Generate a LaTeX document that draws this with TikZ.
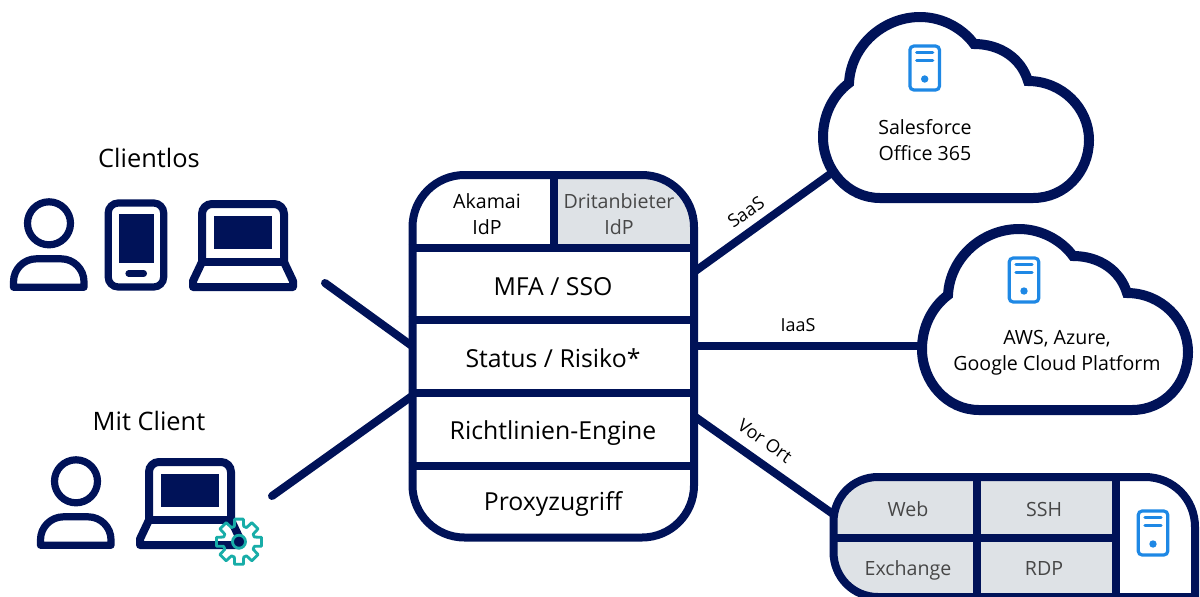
\documentclass[tikz,border=0pt]{standalone}
\usepackage{fontspec}
\setmainfont{Open Sans}
\usepackage{xcolor}
\usetikzlibrary{positioning, calc}

\definecolor{navy}{HTML}{001258}
\definecolor{cellgray}{HTML}{DEE2E6}
\definecolor{srvblue}{HTML}{1E88E5}
\definecolor{gearteal}{HTML}{18ADA8}

\begin{document}
\begin{tikzpicture}[
  x=0.5pt, y=-0.5pt,
  every node/.style={inner sep=0pt, text=black, align=center},
  frame/.style={draw=navy, line width=4pt},
  wire/.style={draw=navy, line width=4pt, line cap=round},
  rowtext/.style={font=\fontsize{12.4}{15}\selectfont, anchor=base},
  celltext/.style={font=\fontsize{9.8}{13}\selectfont},
  graytext/.style={font=\fontsize{9.8}{13}\selectfont, text=black!72},
  cloudtext/.style={font=\fontsize{9.8}{13}\selectfont},
  linklabel/.style={font=\fontsize{9}{11}\selectfont},
  grouplabel/.style={font=\fontsize{12.7}{15}\selectfont},
  % Icons, drawn around their own origin
  pics/person/.style={code={
    \draw[frame, line width=3.6pt] (0,0) circle[radius=21.5];
    \draw[frame, line width=3.6pt, line join=round] (-35.5,64) [rounded corners=11.5pt] -- (-35.5,35.5) -- (35,35.5) [sharp corners] -- (35,64) -- cycle;
  }},
  pics/phone/.style={code={
    \draw[frame, line width=3.6pt, rounded corners=5pt] (-28,-42) rectangle (27.5,42);
    \fill[navy] (-17.5,-31) rectangle (17.5,17.7);
    \draw[navy, line width=3.3pt, line cap=round] (-7.5,28.5) -- (7.5,28.5);
  }},
  pics/laptop/.style={code={
    \draw[frame, rounded corners=5pt] (-41,31) -- (-41,-27) -- (41,-27) -- (41,31);
    \draw[frame] (-41,31) -- (41,31);
    \fill[navy] (-28.7,-14.7) rectangle (29,18.3);
    \draw[frame, line join=round] (-41,31) -- (-50,50) -- (-50,56) -- (50,56) -- (50,50) -- (41,31);
  }},
  pics/server/.style={code={
    \draw[draw=srvblue, line width=1.6pt, rounded corners=2pt] (-14.8,-22) rectangle (14.8,22);
    \draw[srvblue, line width=1.6pt, line cap=round] (-8,-15.3) -- (8,-15.3);
    \draw[srvblue, line width=1.6pt, line cap=round] (-8,-7.7) -- (8,-7.7);
    \fill[srvblue] (0,11) circle[radius=3.7];
  }},
  pics/cloudshape/.style={code={
    \draw[frame, line width=5pt, fill=white, miter limit=10] (-71,-17)
      .. controls (-69,-55) and (-36,-83) .. (0,-83)
      .. controls (24,-83) and (44,-70) .. (54,-56)
      .. controls (80,-56) and (101,-42) .. (108,-19)
      .. controls (142,-19) and (169,8) .. (169,40)
      .. controls (169,72) and (145,98) .. (113,98)
      -- (-40,98)
      .. controls (-72,98) and (-97,70) .. (-97,37)
      .. controls (-97,15) and (-87,-5) .. (-71,-17) -- cycle;
  }}
]
\useasboundingbox (0,0) rectangle (1200,596);

% Clients
\node[grouplabel] (clientlos) at (149,158) {Clientlos};
\pic at (49,223.3) {person};
\pic at (136.2,245) {phone};
\pic at (243,231) {laptop};
\coordinate (clientlosEnd) at (325,283);

\node[grouplabel] (mitclient) at (149,421) {Mit Client};
\pic at (76,481.3) {person};
\pic at (190,489) {laptop};
\coordinate (mitclientEnd) at (272,496);

% Gear on the laptop
\fill[navy] (239,541.7) circle[radius=6.5];
\draw[gearteal, line width=1.4pt, line join=round] (239,541.7) circle[radius=6.5];
\draw[gearteal, line width=1.4pt, line join=round, shift={(239,541.7)}] (-28:16)
  \foreach \a in {0,45,...,315} { -- (\a-17:16) -- (\a-11:23) -- (\a+11:23) -- (\a+17:16) -- (\a+28:16) } -- cycle;

% Gateway stack
\fill[cellgray] (553.5,175) -- (642,175) .. controls (671,175) and (694,198) .. (694,227) -- (694,247.5) -- (553.5,247.5) -- cycle;
\node[frame, rounded corners=26pt, minimum width=140.75pt, minimum height=181.25pt] (stack) at (553.25,356.25) {};
\coordinate (rowA) at (stack.west |- 0,247.5);
\coordinate (rowAe) at (stack.east |- 0,247.5);
\coordinate (rowB) at (stack.west |- 0,320);
\coordinate (rowBe) at (stack.east |- 0,320);
\coordinate (rowC) at (stack.west |- 0,393);
\coordinate (rowCe) at (stack.east |- 0,393);
\coordinate (rowD) at (stack.west |- 0,465.5);
\coordinate (rowDe) at (stack.east |- 0,465.5);
\coordinate (idpTop) at (553.5,175);
\coordinate (idpBottom) at (553.5,247.5);
\draw[frame] (rowA) -- (rowAe);
\draw[frame] (rowB) -- (rowBe);
\draw[frame] (rowC) -- (rowCe);
\draw[frame] (rowD) -- (rowDe);
\draw[frame] (idpTop) -- (idpBottom);

\node[celltext] (akamai) at (487,214) {Akamai\\IdP};
\node[graytext] (dritt) at (619,214) {Dritanbieter\\IdP};
\node[rowtext] (mfa) at (553,295) {MFA / SSO};
\node[rowtext] (status) at (553,367) {Status / Risiko*};
\node[rowtext] (engine) at (553,439) {Richtlinien-Engine};
\node[rowtext] (proxy) at (553,510) {Proxyzugriff};

% Targets
\pic at (920,100) {cloudshape};
\pic at (924.7,68) {server};
\node[cloudtext] (saasapps) at (925,140) {Salesforce\\Office 365};

\pic at (1019,312) {cloudshape};
\pic at (1024,280) {server};
\node[cloudtext] (iaasapps) at (1057,353) {AWS, Azure,\\Google Cloud Platform};

\fill[cellgray] (1115.8,597) -- (1115.8,477) -- (878,477) .. controls (853,477) and (833.5,497) .. (833.5,522) -- (833.5,552) .. controls (833.5,577) and (853,597) .. (878,597) -- cycle;
\draw[frame] (1195,597) -- (1195,527) .. controls (1195,499) and (1173,477) .. (1145,477) -- (878,477) .. controls (853,477) and (833.5,497) .. (833.5,522) -- (833.5,552) .. controls (833.5,577) and (853,597) .. (878,597) -- cycle;
\coordinate (onpremA) at (976.7,477);
\coordinate (onpremB) at (976.7,597);
\coordinate (onpremC) at (1115.8,477);
\coordinate (onpremD) at (1115.8,597);
\coordinate (onpremE) at (833.5,538);
\coordinate (onpremF) at (1115.8,538);
\draw[frame] (onpremA) -- (onpremB);
\draw[frame] (onpremC) -- (onpremD);
\draw[frame] (onpremE) -- (onpremF);
\node[graytext, anchor=base] (web) at (908,516) {Web};
\node[graytext, anchor=base] (ssh) at (1044,516) {SSH};
\node[graytext, anchor=base] (exchange) at (908,575) {Exchange};
\node[graytext, anchor=base] (rdp) at (1044,575) {RDP};
\pic at (1153,533) {server};

% Connectors
\coordinate (stackNW) at (412,346);
\coordinate (stackSW) at (412,396);
\coordinate (stackNE) at (694,272);
\coordinate (stackE) at (694,346);
\coordinate (stackSE) at (694,416);
\coordinate (saasPort) at (833,172);
\coordinate (iaasPort) at (921,346);
\coordinate (onpremPort) at (833,514);
\draw[wire] (clientlosEnd) -- (stackNW);
\draw[wire] (mitclientEnd) -- (stackSW);
\draw[wire, line cap=butt] (stackNE) -- (saasPort);
\draw[wire, line cap=butt] (stackE) -- (iaasPort);
\draw[wire, line cap=butt] (stackSE) -- (onpremPort);

% Labels
\node[linklabel, rotate=35] (saaslabel) at (746,212) {SaaS};
\node[linklabel] (iaaslabel) at (798,325) {IaaS};
\node[linklabel, rotate=-35] (vorortlabel) at (765,441) {Vor Ort};
\end{tikzpicture}
\end{document}
